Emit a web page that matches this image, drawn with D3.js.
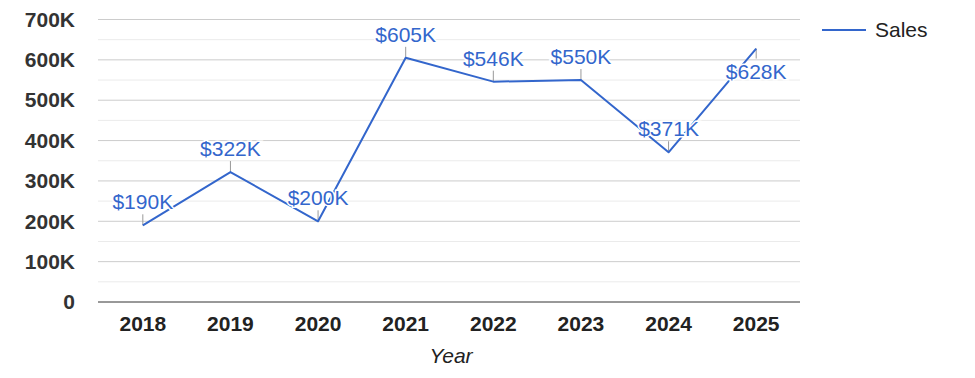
<!DOCTYPE html>
<meta charset="utf-8">
<script src="https://d3js.org/d3.v7.min.js"></script>
<style>
  body { margin: 0; background: #fff; }
  text { font-family: Arial, "Liberation Sans", sans-serif; }
</style>
<div id="chart"></div>
<script>
    // data
    const years = ["2018", "2019", "2020", "2021", "2022", "2023", "2024", "2025"];
    const sales = [190000, 322000, 200000, 605000, 546000, 550000, 371000, 628000];
    const yTicks = [0, 100000, 200000, 300000, 400000, 500000, 600000, 700000];
    const minorTicks = [50000, 150000, 250000, 350000, 450000, 550000, 650000];
    const labelsBelow = ["2025"];

    const W = 975, H = 378;
    const plot = {left: 98, right: 800, top: 19.5, bottom: 302};
    const blue = "#3366cc";

    const svg = d3.select("#chart")
        .append("svg")
            .attr("width", W)
            .attr("height", H);

    const x = d3.scaleBand()
        .domain(years)
        .range([plot.left + 1, plot.right]);

    const y = d3.scaleLinear()
        .domain([0, 700000])
        .range([plot.bottom, plot.top]);

    // gridlines
    svg.append("g")
        .selectAll("line")
        .data(minorTicks)
        .join("line")
            .attr("x1", plot.left).attr("x2", plot.right)
            .attr("y1", d => y(d)).attr("y2", d => y(d))
            .attr("stroke", "#ebebeb");
    svg.append("g")
        .selectAll("line")
        .data(yTicks.slice(1))
        .join("line")
            .attr("x1", plot.left).attr("x2", plot.right)
            .attr("y1", d => y(d)).attr("y2", d => y(d))
            .attr("stroke", "#cccccc");

    // y axis labels
    const yAxis = svg.append("g")
        .attr("transform", `translate(${plot.left},0)`)
        .call(d3.axisLeft(y)
            .tickValues(yTicks)
            .tickSize(0)
            .tickPadding(23)
            .tickFormat(d => d === 0 ? "0" : `${d / 1000}K`));
    yAxis.select(".domain").remove();
    yAxis.selectAll("text")
        .attr("font-family", null)
        .style("font-size", "21px")
        .style("font-weight", "bold")
        .attr("fill", "#333");

    // x axis
    const xAxis = svg.append("g")
        .attr("transform", `translate(0,${plot.bottom})`)
        .call(d3.axisBottom(x).tickSize(0).tickPadding(14));
    xAxis.select(".domain").remove();
    xAxis.selectAll("text")
        .attr("font-family", null)
        .style("font-size", "21px")
        .style("font-weight", "bold")
        .attr("fill", "#222");
    svg.append("line")
        .attr("x1", plot.left).attr("x2", plot.right)
        .attr("y1", y(0)).attr("y2", y(0))
        .attr("stroke", "#333");

    svg.append("text")
        .attr("x", 451)
        .attr("y", 363)
        .attr("text-anchor", "middle")
        .style("font-size", "21px")
        .style("font-style", "italic")
        .attr("fill", "#222")
        .text("Year");

    const pts = years.map((yr, i) => ({year: yr, value: sales[i]}));
    const cx = d => x(d.year) + x.bandwidth() / 2;

    // annotation stems
    svg.append("g")
        .selectAll("line")
        .data(pts)
        .join("line")
            .attr("x1", cx).attr("x2", cx)
            .attr("y1", d => y(d.value))
            .attr("y2", d => labelsBelow.includes(d.year) ? y(d.value) + 10 : y(d.value) - 11)
            .attr("stroke", "#999");

    // line
    svg.append("path")
        .datum(pts)
        .attr("fill", "none")
        .attr("stroke", blue)
        .attr("stroke-width", 2)
        .attr("stroke-linejoin", "round")
        .attr("d", d3.line().x(cx).y(d => y(d.value)));

    // annotations
    svg.append("g")
        .selectAll("text")
        .data(pts)
        .join("text")
            .attr("x", cx)
            .attr("y", d => labelsBelow.includes(d.year) ? y(d.value) + 30 : y(d.value) - 16)
            .attr("text-anchor", "middle")
            .style("font-size", "21px")
            .attr("fill", blue)
            .attr("stroke", "#fff")
            .attr("stroke-width", 3)
            .attr("paint-order", "stroke")
            .text(d => `$${Math.round(d.value / 1000)}K`);

    // legend
    const lg = svg.append("g");
    lg.append("line")
        .attr("x1", 822).attr("x2", 866)
        .attr("y1", 30).attr("y2", 30)
        .attr("stroke", blue)
        .attr("stroke-width", 2);
    lg.append("text")
        .attr("x", 875)
        .attr("y", 37)
        .style("font-size", "21px")
        .attr("fill", "#222")
        .text("Sales");
</script>
